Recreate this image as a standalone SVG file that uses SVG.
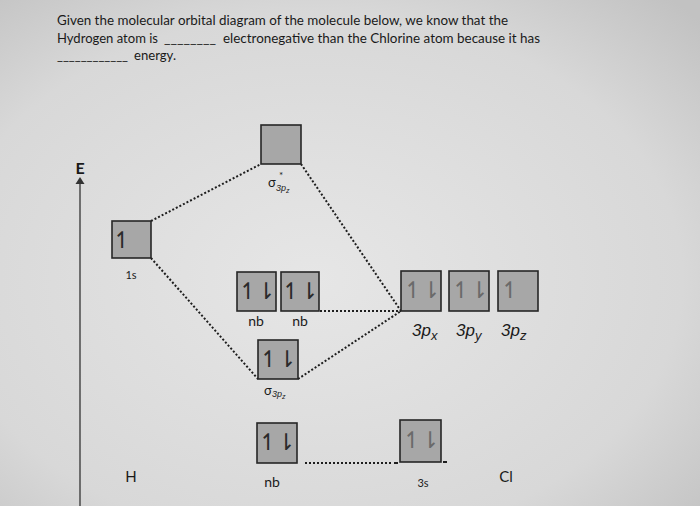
<svg xmlns="http://www.w3.org/2000/svg" width="700" height="506" viewBox="0 0 700 506">
<defs>
<radialGradient id="bg" cx="45%" cy="55%" r="75%">
<stop offset="0" stop-color="#e6e6e6"/>
<stop offset="0.7" stop-color="#d8d8d8"/>
<stop offset="1" stop-color="#c2c2c2"/>
</radialGradient>
<style>
.t{font-family:Lato,"Liberation Sans",sans-serif;font-size:13px;fill:#1a1a1a}
.lb{font-family:Lato,"Liberation Sans",sans-serif;fill:#1a1a1a}
.it{font-family:"Liberation Sans",sans-serif;font-style:italic;fill:#1a1a1a}
.box{fill:#a7a7a7;stroke:#262626;stroke-width:1.6}
.hp{font-family:"DejaVu Sans",sans-serif;font-size:23px;fill:#2a2a2a;text-anchor:middle}
.hl{fill:#6a6a6a}
.dot{fill:none;stroke:#1e1e1e;stroke-width:2;stroke-dasharray:2 2}
</style>
</defs>
<rect width="700" height="506" fill="url(#bg)"/>

<g id="question">
<text class="t" x="57" y="25" textLength="451" lengthAdjust="spacingAndGlyphs">Given the molecular orbital diagram of the molecule below, we know that the</text>
<text class="t" x="57" y="43" textLength="101" lengthAdjust="spacingAndGlyphs">Hydrogen atom is</text>
<text class="t" x="164" y="43" textLength="52" lengthAdjust="spacingAndGlyphs">________</text>
<text class="t" x="223" y="43" textLength="317" lengthAdjust="spacingAndGlyphs">electronegative than the Chlorine atom because it has</text>
<text class="t" x="57" y="60" textLength="71" lengthAdjust="spacingAndGlyphs">____________</text>
<text class="t" x="134" y="60" textLength="42" lengthAdjust="spacingAndGlyphs">energy.</text>
</g>

<g id="energy-axis">
<line x1="80" y1="182" x2="80" y2="506" stroke="#333" stroke-width="1.3"/>
<polygon points="80,177 75.5,184 84.5,184" fill="#333"/>
<text class="lb" x="80" y="174" font-size="16" font-weight="bold" text-anchor="middle" fill="#333">E</text>
</g>

<g id="connectors">
<line class="dot" x1="151" y1="221" x2="261" y2="164"/>
<line class="dot" x1="151" y1="258" x2="258" y2="379"/>
<line class="dot" x1="301" y1="164" x2="401" y2="311"/>
<line class="dot" x1="320" y1="311" x2="401" y2="311"/>
<line class="dot" x1="298" y1="379" x2="401" y2="311"/>
<line class="dot" x1="305" y1="463" x2="393" y2="463"/>
<line x1="394" y1="463" x2="398" y2="463" stroke="#1e1e1e" stroke-width="2"/>
<line x1="443" y1="462" x2="447" y2="462" stroke="#1e1e1e" stroke-width="2"/>
</g>

<g id="H-1s">
<rect class="box" x="112" y="221" width="39" height="37"/>
<text class="hp" x="122" y="248" fill="#444">↿</text>
<text class="lb" x="131" y="279" font-size="11" text-anchor="middle">1s</text>
</g>

<g id="sigma-star-3pz">
<rect class="box" x="261" y="125" width="40" height="39"/>
<text class="lb" x="268" y="187" font-size="13">σ</text>
<text class="lb" x="279" y="179" font-size="10">*</text>
<text class="it" x="276" y="191" font-size="9">3p<tspan font-size="7" dy="2">z</tspan></text>
</g>

<g id="nb1">
<rect class="box" x="237" y="272" width="39" height="39"/>
<text class="hp" x="248" y="299">↿</text>
<text class="hp" x="266" y="299">⇂</text>
<text class="lb" x="256" y="326" font-size="14" text-anchor="middle">nb</text>
</g>

<g id="nb2">
<rect class="box" x="281" y="272" width="38" height="39"/>
<text class="hp" x="291" y="299">↿</text>
<text class="hp" x="309" y="299">⇂</text>
<text class="lb" x="300" y="326" font-size="14" text-anchor="middle">nb</text>
</g>

<g id="Cl-3px">
<rect class="box" x="401" y="271" width="40" height="40"/>
<text class="hp hl" x="413" y="298">↿</text>
<text class="hp hl" x="431" y="298">⇂</text>
<text class="it" x="412" y="336" font-size="17">3p<tspan font-size="13" dy="4">x</tspan></text>
</g>

<g id="Cl-3py">
<rect class="box" x="449" y="271" width="40" height="40"/>
<text class="hp hl" x="461" y="298">↿</text>
<text class="hp hl" x="479" y="298">⇂</text>
<text class="it" x="456" y="336" font-size="17">3p<tspan font-size="13" dy="4">y</tspan></text>
</g>

<g id="Cl-3pz">
<rect class="box" x="498" y="271" width="40" height="40"/>
<text class="hp hl" x="510" y="298">↿</text>
<text class="it" x="501" y="336" font-size="17">3p<tspan font-size="13" dy="4">z</tspan></text>
</g>

<g id="sigma-3pz">
<rect class="box" x="258" y="340" width="40" height="39"/>
<text class="hp" x="269" y="367">↿</text>
<text class="hp" x="287" y="367">⇂</text>
<text class="lb" x="264" y="395" font-size="13">σ</text>
<text class="it" x="272" y="397" font-size="9">3p<tspan font-size="7" dy="2">z</tspan></text>
</g>

<g id="nb3">
<rect class="box" x="257" y="423" width="40" height="40"/>
<text class="hp" x="268" y="450">↿</text>
<text class="hp" x="286" y="450">⇂</text>
<text class="lb" x="272" y="487" font-size="14" text-anchor="middle">nb</text>
</g>

<g id="Cl-3s">
<rect class="box" x="400" y="420" width="41" height="42"/>
<text class="hp hl" x="412" y="448">↿</text>
<text class="hp hl" x="430" y="448">⇂</text>
<text class="lb" x="423" y="487" font-size="11" text-anchor="middle">3s</text>
</g>

<g id="H-label">
<text class="lb" x="131" y="482" font-size="15" text-anchor="middle" fill="#333">H</text>
</g>
<g id="Cl-label">
<text class="lb" x="506" y="482" font-size="15" text-anchor="middle" fill="#333">Cl</text>
</g>
</svg>
